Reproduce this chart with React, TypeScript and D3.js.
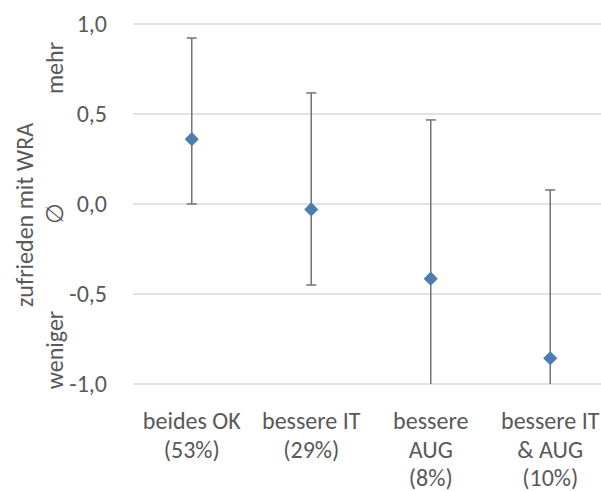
import React from "react";
import * as d3 from "d3";

const categories: string[][] = [
  ["beides OK", "(53%)"],
  ["bessere IT", "(29%)"],
  ["bessere", "AUG", "(8%)"],
  ["bessere IT", "& AUG", "(10%)"],
];
const means = [0.36, -0.03, -0.415, -0.857];
const upper = [0.922, 0.617, 0.467, 0.078];
const lower = [0.0, -0.45, -1.2, -1.2];
const yTicks = [1.0, 0.5, 0.0, -0.5, -1.0];

const W = 601;
const H = 491;
const font = "Carlito, Calibri, 'Open Sans', sans-serif";
const textColor = "#595959";
const fs = 24;

export default function App() {
  const x = d3.scaleBand().domain(categories.map((_, i) => String(i))).range([132, 610]);
  const y = d3.scaleLinear().domain([-1, 1]).range([384, 24]);
  const fmt = (v: number) => d3.format(".1f")(v).replace(".", ",").replace("−", "-");
  const diamond = d3.symbol().type(d3.symbolDiamond2).size(16 * 16 / 2)();
  return (
    <svg width={W} height={H} style={{ position: "absolute", left: 0, top: 0 }}>
      <rect width={W} height={H} fill="#fff" />
      <defs>
        <clipPath id="plot">
          <rect x={120} y={y(1) - 2} width={490} height={y(-1) - y(1) + 2} />
        </clipPath>
      </defs>
      {yTicks.map((t) => (
        <g key={t}>
          <line x1={133} x2={W} y1={y(t)} y2={y(t)} stroke="#d9d9d9" strokeWidth={1.3} />
          <text x={107} y={y(t)} dy="0.35em" textAnchor="end" fontFamily={font} fontSize={fs} fill={textColor}>
            {fmt(t)}
          </text>
        </g>
      ))}
      <g clipPath="url(#plot)">
        {categories.map((_, i) => {
          const cx = (x(String(i)) as number) + x.bandwidth() / 2;
          return (
            <g key={i}>
              <line x1={cx} x2={cx} y1={y(upper[i])} y2={y(lower[i])} stroke="#737373" strokeWidth={1.5} />
              <line x1={cx - 5} x2={cx + 5} y1={y(upper[i])} y2={y(upper[i])} stroke="#737373" strokeWidth={1.5} />
              {lower[i] >= -1 && (
                <line x1={cx - 5} x2={cx + 5} y1={y(lower[i])} y2={y(lower[i])} stroke="#737373" strokeWidth={1.5} />
              )}
            </g>
          );
        })}
      </g>
      {categories.map((_, i) => {
        const cx = (x(String(i)) as number) + x.bandwidth() / 2;
        return (
          <path key={i} d={diamond as string} transform={`translate(${cx},${y(means[i])})`} fill="#4a7eb2" />
        );
      })}
      {categories.map((lines, i) => {
        const cx = (x(String(i)) as number) + x.bandwidth() / 2;
        return (
          <text key={i} x={cx} y={421} textAnchor="middle" fontFamily={font} fontSize={fs} fill={textColor}>
            {lines.map((l, j) => (
              <tspan key={j} x={cx} y={421 + j * 28.5} dy="0.35em">
                {l}
              </tspan>
            ))}
          </text>
        );
      })}
      <text transform={`translate(25,215) rotate(-90)`} textAnchor="middle" dy="0.35em" fontFamily={font} fontSize={fs} fill={textColor}>
        zufrieden mit WRA
      </text>
      <text transform={`translate(55,68) rotate(-90)`} textAnchor="middle" dy="0.35em" fontFamily={font} fontSize={fs} fill={textColor}>
        mehr
      </text>
      <text transform={`translate(55,213) rotate(-90)`} textAnchor="middle" dy="0.35em" fontFamily={font} fontSize={fs} fill={textColor}>
        ∅
      </text>
      <text transform={`translate(55,350) rotate(-90)`} textAnchor="middle" dy="0.35em" fontFamily={font} fontSize={fs} fill={textColor}>
        weniger
      </text>
    </svg>
  );
}
